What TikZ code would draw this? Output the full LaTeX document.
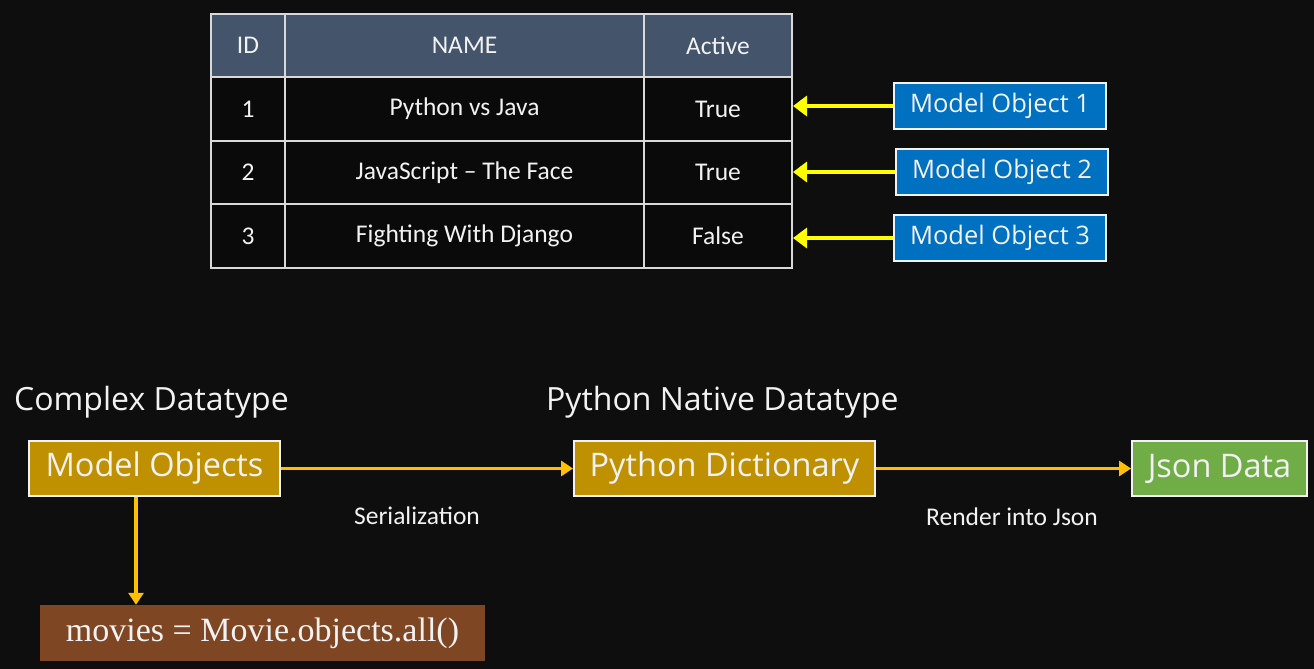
\documentclass[tikz,border=0pt]{standalone}
\usepackage{fontspec}
\setmainfont{Carlito}
\newfontfamily\uifont{Open Sans}
\newfontfamily\codefont{Liberation Serif}
\usetikzlibrary{arrows.meta}

\definecolor{bgdark}{HTML}{0E0E0E}
\definecolor{cellblack}{HTML}{0A0A0A}
\definecolor{headblue}{HTML}{44546A}
\definecolor{gridgray}{HTML}{D9D9D9}
\definecolor{textwhite}{HTML}{F2F2F2}
\definecolor{objblue}{HTML}{0070C0}
\definecolor{modelgold}{HTML}{BF9000}
\definecolor{jsongreen}{HTML}{70AD47}
\definecolor{codebrown}{HTML}{7E4623}
\definecolor{linkyellow}{HTML}{FFFF00}
\definecolor{flowgold}{HTML}{FFC000}

\begin{document}
\begin{tikzpicture}[x=1pt,y=-1pt,
    cell/.style={rectangle,draw=gridgray,line width=2pt,inner sep=0pt,
                 text=textwhite,font=\fontsize{25.5}{30}\selectfont,minimum height=63.5pt},
    idcell/.style={cell,minimum width=74pt},
    namecell/.style={cell,minimum width=359pt},
    actcell/.style={cell,minimum width=148pt},
    head/.style={fill=headblue},
    row/.style={fill=cellblack},
    obj node/.style={rectangle,draw=textwhite,line width=2pt,fill=objblue,text=textwhite,
                     inner sep=0pt,minimum width=212pt,minimum height=46pt,
                     font=\uifont\fontsize{25.5}{30}\selectfont},
    main node/.style={rectangle,draw=textwhite,line width=2pt,text=textwhite,
                      inner sep=0pt,minimum height=55pt,font=\uifont\fontsize{32.5}{38}\selectfont},
    title/.style={text=textwhite,inner sep=0pt,anchor=west,font=\uifont\fontsize{32}{38}\selectfont},
    step label/.style={text=textwhite,inner sep=0pt,font=\fontsize{25.5}{30}\selectfont},
    link/.style={-{Triangle[length=14pt,width=20pt]},line width=4pt,draw=linkyellow},
    flow/.style={-{Triangle[length=12pt,width=15pt]},line width=3.5pt,draw=flowgold}]

  \fill[bgdark] (0,0) rectangle (1314,669);
  \useasboundingbox (0,0) rectangle (1314,669);

  % table
  \node[idcell,head]   (idh)  at (248,45.5)   {ID};
  \node[namecell,head] (nameh) at (464.5,45.5) {NAME};
  \node[actcell,head]  (acth) at (718,45.5)   {Active};

  \node[idcell,row]   (id1)   at (248,109)   {1};
  \node[namecell,row] (name1) at (464.5,109) {Python vs Java};
  \node[actcell,row]  (act1)  at (718,109)   {True};

  \node[idcell,row]   (id2)   at (248,172.5)   {2};
  \node[namecell,row] (name2) at (464.5,172.5) {JavaScript -- The Face};
  \node[actcell,row]  (act2)  at (718,172.5)   {True};

  \node[idcell,row]   (id3)   at (248,236)   {3};
  \node[namecell,row] (name3) at (464.5,236) {Fighting With Django};
  \node[actcell,row]  (act3)  at (718,236)   {False};

  % model objects
  \node[obj node] (mo1) at (1000,106) {Model Object 1};
  \node[obj node] (mo2) at (1002,172) {Model Object 2};
  \node[obj node] (mo3) at (1000,238) {Model Object 3};

  \draw[link] (mo1.west) -- (mo1.west -| act1.east);
  \draw[link] (mo2.west) -- (mo2.west -| act2.east);
  \draw[link] (mo3.west) -- (mo3.west -| act3.east);

  % serialization flow
  \node[title] (complex) at (14,402) {Complex Datatype};
  \node[title] (native)  at (546,402) {Python Native Datatype};

  \node[main node,fill=modelgold,minimum width=251pt] (objs) at (154.5,468.5) {Model Objects};
  \node[main node,fill=modelgold,minimum width=301pt] (dict) at (724.5,468.5) {Python Dictionary};
  \node[main node,fill=jsongreen,minimum width=175pt] (json) at (1219.5,468.5) {Json Data};
  \node[rectangle,fill=codebrown,text=textwhite,inner sep=0pt,minimum width=445pt,
        minimum height=56pt,font=\codefont\fontsize{34}{40}\selectfont] (query) at (262.5,633)
        {movies = Movie.objects.all()};

  \node[step label] (ser) at (417,516) {Serialization};
  \node[step label] (rend) at (1012,517) {Render into Json};

  \coordinate (drop) at (136,0);

  \draw[flow] (objs.east) -- (dict.west);
  \draw[flow] (dict.east) -- (json.west);
  \draw[flow] (drop |- objs.south) -- (drop |- query.north);
\end{tikzpicture}
\end{document}
